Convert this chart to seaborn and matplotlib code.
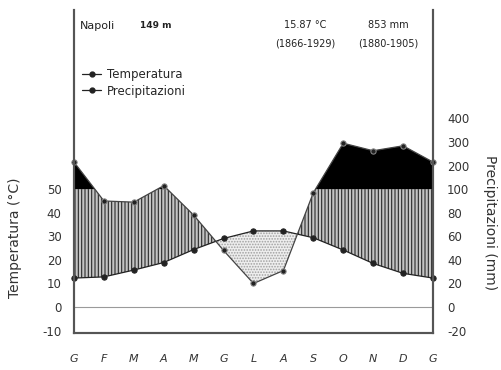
import numpy as np
import pandas as pd
import matplotlib
matplotlib.use("Agg")
import matplotlib.pyplot as plt
import seaborn as sns
from matplotlib.lines import Line2D

# ---- data ----
months = ["G", "F", "M", "A", "M", "G", "L", "A", "S", "O", "N", "D", "G"]
temperature_c = [12.3, 12.8, 15.7, 18.9, 24.4, 29.1, 32.3, 32.3, 29.4, 24.2, 18.5, 14.3, 12.3]
precip_mm = [215, 90, 89, 115, 78, 48, 20, 31, 97, 295, 263, 284, 215]
left_ticks = [-10, 0, 10, 20, 30, 40, 50]
right_tick_labels = [-20, 0, 20, 40, 60, 80, 100, 200, 300, 400]


def mm_to_units(p):
    p = np.asarray(p, dtype=float)
    return np.where(p <= 100, p / 2.0, 50 + (p - 100) / 10.0)


sns.set_style("white")
plt.rcParams["font.family"] = ["DejaVu Sans"]
plt.rcParams["hatch.linewidth"] = 0.8

x = np.arange(len(months))
T = np.asarray(temperature_c, dtype=float)
P = mm_to_units(precip_mm)
df = pd.DataFrame({"x": x, "Temperatura": T, "Precipitazioni": P})

fig = plt.figure(figsize=(5.02, 3.70), dpi=100)
ax = fig.add_axes([74 / 502, 1 - 333 / 370, (433 - 74) / 502, (333 - 10) / 370])

# fills
xd = np.linspace(0, 12, 2401)
Td = np.interp(xd, x, T)
Pd = np.interp(xd, x, P)
ax.fill_between(xd, Td, np.minimum(Pd, 50), where=Pd >= Td, interpolate=True,
                facecolor="#c4c4c4", edgecolor="#2a2a2a", hatch="|||||", linewidth=0)
ax.fill_between(xd, 50, Pd, where=Pd > 50, interpolate=True, color="black", linewidth=0)
ax.fill_between(xd, Pd, Td, where=Pd < Td, interpolate=True,
                facecolor="#eeeeee", edgecolor="#a0a0a0", hatch="......", linewidth=0)

ax.axhline(0, color="#9a9a9a", lw=0.8)

sns.lineplot(data=df, x="x", y="Temperatura", ax=ax, color="#222222", lw=0.9,
             marker="o", markersize=3.8, markeredgecolor="#222222", clip_on=False)
sns.lineplot(data=df, x="x", y="Precipitazioni", ax=ax, color="#444444", lw=0.9,
             marker="o", markersize=3.8, markerfacecolor="#222222",
             markeredgecolor="#888888", clip_on=False)

ax.set_xlim(0, 12)
ax.set_ylim(-11, 126)
ax.set_xticks(x)
ax.set_xticklabels(months, fontsize=8, style="italic", color="#333333")
ax.set_yticks(left_ticks)
ax.set_yticklabels([str(v) for v in left_ticks], fontsize=8.5, color="#333333")
ax.tick_params(axis="x", length=0, pad=15)
ax.tick_params(axis="y", length=0, pad=9)
ax.set_xlabel("")
ax.set_ylabel("")

ax2 = ax.twinx()
ax2.set_ylim(ax.get_ylim())
ax2.set_yticks(mm_to_units(right_tick_labels))
ax2.set_yticklabels([str(v) for v in right_tick_labels], fontsize=8.5, color="#333333")
ax2.tick_params(axis="y", length=0, pad=10)

for a in (ax, ax2):
    a.spines["top"].set_visible(False)
    for s in ("left", "right", "bottom"):
        a.spines[s].set_color("#555555")
        a.spines[s].set_linewidth(1.5)

fig.text(15 / 502, 1 - 238 / 370, "Temperatura (°C)", rotation=90, ha="center",
         va="center", fontsize=10, color="#333333")
fig.text(490 / 502, 1 - 223 / 370, "Precipitazioni (mm)", rotation=270, ha="center",
         va="center", fontsize=10, color="#333333")

fig.text(80 / 502, 1 - 26 / 370, "Napoli", fontsize=8, va="center", color="#222222")
fig.text(140 / 502, 1 - 26 / 370, "149 m", fontsize=6.5, va="center", weight="bold",
         color="#222222")
fig.text(305 / 502, 1 - 25 / 370, "15.87 °C", fontsize=7, ha="center", va="center", color="#222222")
fig.text(305 / 502, 1 - 44 / 370, "(1866-1929)", fontsize=7, ha="center", va="center", color="#222222")
fig.text(388 / 502, 1 - 25 / 370, "853 mm", fontsize=7, ha="center", va="center", color="#222222")
fig.text(388 / 502, 1 - 44 / 370, "(1880-1905)", fontsize=7, ha="center", va="center", color="#222222")

handles = [Line2D([0], [0], color="#222222", lw=0.9, marker="o", markersize=3.5),
           Line2D([0], [0], color="#222222", lw=0.9, marker="o", markersize=3.5)]
ax.legend(handles, ["Temperatura", "Precipitazioni"], loc="upper left",
          bbox_to_anchor=(0.01, 0.835), frameon=False, fontsize=8.5,
          handlelength=1.6, handletextpad=0.5, labelspacing=0.3, borderaxespad=0)

fig.savefig("out.png", dpi=100)
